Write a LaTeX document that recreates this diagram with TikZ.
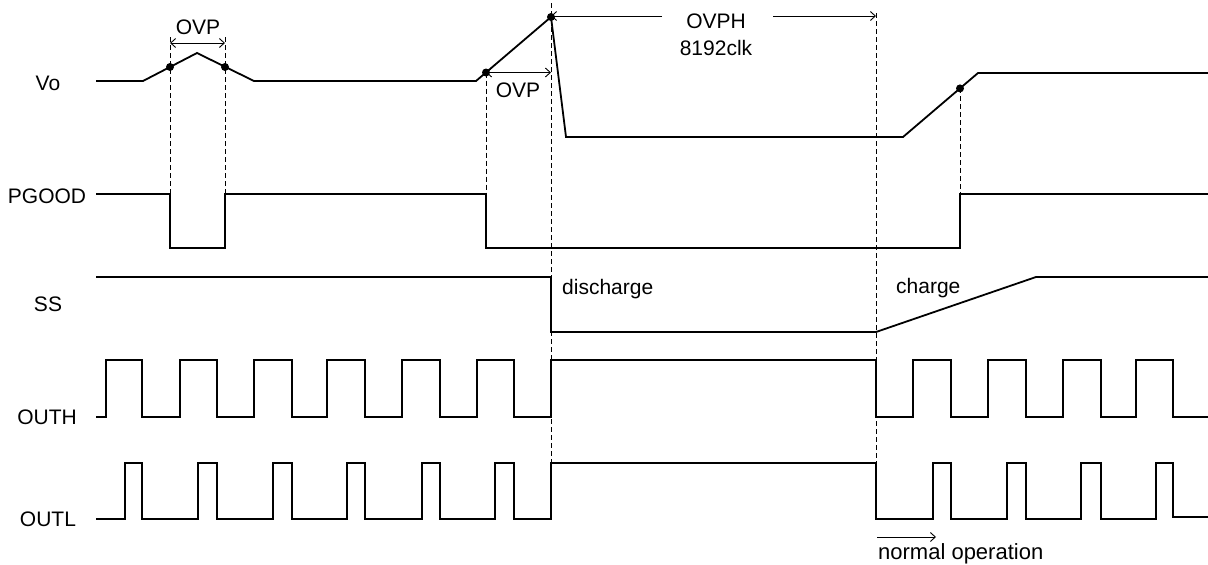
\documentclass[tikz,border=0pt]{standalone}
\usepackage{fontspec}
\setmainfont{Liberation Sans}
\usetikzlibrary{arrows.meta}

\tikzset{
  sig/.style={line width=1.8pt,line join=miter},
  guide/.style={line width=0.8pt,dash pattern=on 5pt off 3pt},
  dim/.style={line width=0.9pt},
  lbl/.style={inner sep=0pt,font=\fontsize{21}{25}\selectfont},
}

\begin{document}
\begin{tikzpicture}[x=1pt,y=-1pt,>={Straight Barb[length=5pt,width=9pt]}]

\newcommand\PGhi{194}
\newcommand\PGlo{248}
\newcommand\SShi{277}
\newcommand\SSlo{332}
\newcommand\OHhi{360}
\newcommand\OHlo{417}
\newcommand\OLhi{463}
\newcommand\OLlo{519}

  \useasboundingbox (0,0) rectangle (1208,565);

  %% signal names
  \node[lbl,anchor=base] (vo)    at (48,90)  {Vo};
  \node[lbl,anchor=base] (pgood) at (47,203) {PGOOD};
  \node[lbl,anchor=base] (ss)    at (48,311) {SS};
  \node[lbl,anchor=base] (outh)  at (47,424) {OUTH};
  \node[lbl,anchor=base] (outl)  at (48,526) {OUTL};

  %% Vo
  \draw[sig] (96,81) -- (143,81) -- (197,53) -- (254,81) -- (476,81)
    -- (551,17) -- (566,137) -- (903,137) -- (978,73) -- (1208,73);

  %% PGOOD
  \draw[sig] (96,\PGhi) -- (170,\PGhi) -- (170,\PGlo) -- (225,\PGlo) -- (225,\PGhi)
    -- (486,\PGhi) -- (486,\PGlo) -- (960,\PGlo) -- (960,\PGhi) -- (1208,\PGhi);

  %% SS
  \draw[sig] (96,\SShi) -- (551,\SShi) -- (551,\SSlo) -- (876,\SSlo)
    -- (1036,\SShi) -- (1208,\SShi);

  %% OUTH
  \draw[sig] (96,\OHlo) -- (106,\OHlo) -- (106,\OHhi) -- (142,\OHhi) -- (142,\OHlo)
    -- (180,\OHlo) -- (180,\OHhi) -- (217,\OHhi) -- (217,\OHlo)
    -- (254,\OHlo) -- (254,\OHhi) -- (292,\OHhi) -- (292,\OHlo)
    -- (327,\OHlo) -- (327,\OHhi) -- (365,\OHhi) -- (365,\OHlo)
    -- (402,\OHlo) -- (402,\OHhi) -- (440,\OHhi) -- (440,\OHlo)
    -- (477,\OHlo) -- (477,\OHhi) -- (514,\OHhi) -- (514,\OHlo)
    -- (551,\OHlo) -- (551,\OHhi) -- (876,\OHhi) -- (876,\OHlo) %% stopped
    -- (913,\OHlo) -- (913,\OHhi) -- (951,\OHhi) -- (951,\OHlo)
    -- (988,\OHlo) -- (988,\OHhi) -- (1026,\OHhi) -- (1026,\OHlo)
    -- (1063,\OHlo) -- (1063,\OHhi) -- (1101,\OHhi) -- (1101,\OHlo)
    -- (1136,\OHlo) -- (1136,\OHhi) -- (1173,\OHhi) -- (1173,\OHlo) -- (1208,\OHlo);

  %% OUTL
  \draw[sig] (96,\OLlo) -- (125,\OLlo) -- (125,\OLhi) -- (142,\OLhi) -- (142,\OLlo)
    -- (198,\OLlo) -- (198,\OLhi) -- (217,\OLhi) -- (217,\OLlo)
    -- (273,\OLlo) -- (273,\OLhi) -- (292,\OLhi) -- (292,\OLlo)
    -- (347,\OLlo) -- (347,\OLhi) -- (365,\OLhi) -- (365,\OLlo)
    -- (422,\OLlo) -- (422,\OLhi) -- (440,\OLhi) -- (440,\OLlo)
    -- (495,\OLlo) -- (495,\OLhi) -- (514,\OLhi) -- (514,\OLlo)
    -- (551,\OLlo) -- (551,\OLhi) -- (876,\OLhi) -- (876,\OLlo) %% stopped
    -- (933,\OLlo) -- (933,\OLhi) -- (951,\OLhi) -- (951,\OLlo)
    -- (1007,\OLlo) -- (1007,\OLhi) -- (1026,\OLhi) -- (1026,\OLlo)
    -- (1081,\OLlo) -- (1081,\OLhi) -- (1101,\OLhi) -- (1101,\OLlo)
    -- (1156,\OLlo) -- (1156,\OLhi) -- (1173,\OLhi) -- (1173,517) -- (1208,517);

  %% trip points
  \coordinate (d1) at (170,67);
  \coordinate (d2) at (225,67);
  \coordinate (d3) at (486,72.5);
  \coordinate (d4) at (551,17);
  \coordinate (d5) at (960,88.4);

  %% dashed guides
  \draw[guide] (170,37) -- (170,\PGhi);
  \draw[guide] (225,37) -- (225,\PGhi);
  \draw[guide] (d3) -- (486,\PGhi);
  \draw[guide] (551,3) -- (551,\OLhi);
  \draw[guide] (876,13) -- (876,\OLhi);
  \draw[guide] (d5) -- (960,\PGhi);

  \foreach \d in {d1,d2,d3,d4,d5}
    \fill (\d) circle (4pt);

  %% OVP widths
  \coordinate (ovp1l) at (170,43);
  \coordinate (ovp1r) at (225,43);
  \draw[dim,<->] (ovp1l) -- (ovp1r);
  \node[lbl,anchor=base] (ovp1) at (198,34) {OVP};

  \coordinate (ovp2r) at (551,72.5);
  \draw[dim,<->] (d3) -- (ovp2r);
  \node[lbl,anchor=base] (ovp2) at (518,97) {OVP};

  %% OVPH hold time
  \node[lbl,anchor=base] (ovph) at (716,28) {OVPH};
  \node[lbl,anchor=base] (clk)  at (716,55) {8192clk};
  \coordinate (ovphl) at (551,16);
  \coordinate (ovphm) at (662,16);
  \coordinate (ovphn) at (773,16);
  \coordinate (ovphr) at (876,16);
  \draw[dim,->] (ovphm) -- (ovphl);
  \draw[dim,->] (ovphn) -- (ovphr);

  %% SS notes
  \node[lbl,anchor=base west] (dis)  at (562,294) {discharge};
  \node[lbl,anchor=base west] (chg)  at (896,293) {charge};

  %% restart
  \coordinate (norml) at (877,537);
  \coordinate (normr) at (936,537);
  \draw[dim,->] (norml) -- (normr);
  \node[lbl,anchor=base west,font=\fontsize{22}{26}\selectfont] (norm) at (878,559) {normal operation};

\end{tikzpicture}
\end{document}
